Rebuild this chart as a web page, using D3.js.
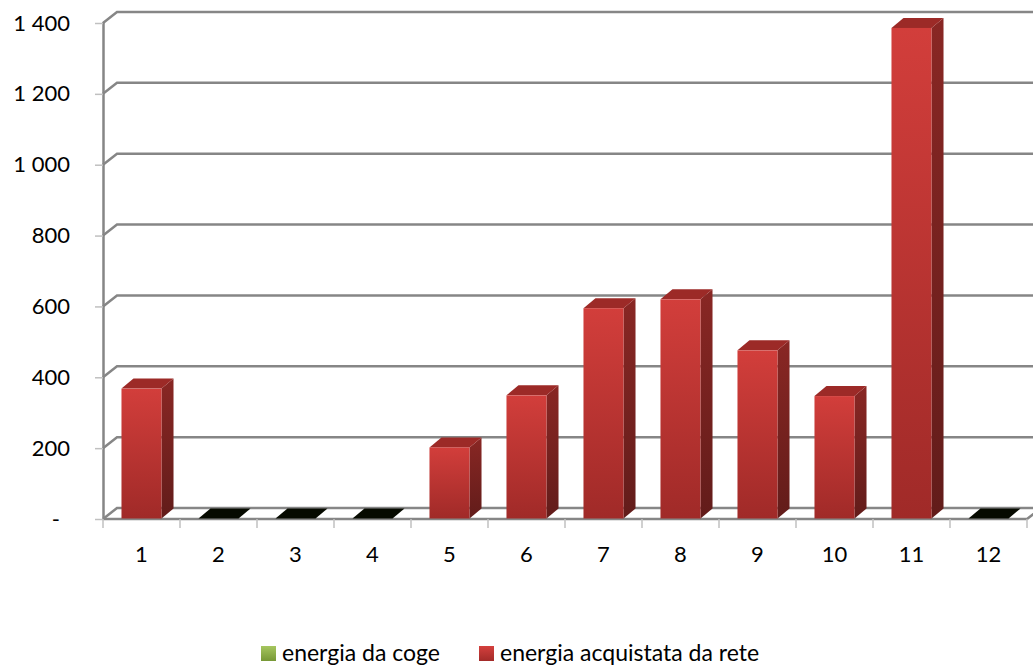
<!DOCTYPE html>
<html>
<head>
<meta charset="utf-8">
<script src="https://cdn.jsdelivr.net/npm/d3@7"></script>
<style>
  html, body { margin: 0; padding: 0; background: #fff; }
  svg { display: block; font-family: Lato, "Open Sans", sans-serif; }
</style>
</head>
<body>
<svg id="chart" width="1033" height="668"></svg>
<script>
// Monthly energy (kWh): cogeneration vs. energy bought from the grid
const months = [1, 2, 3, 4, 5, 6, 7, 8, 9, 10, 11, 12];
const energiaCoge = [0, 0, 0, 0, 0, 0, 0, 0, 0, 0, 0, 0];
const energiaRete = [368, 0, 0, 0, 202, 349, 595, 620, 476, 347, 1386, 0];
const yTicks = [0, 200, 400, 600, 800, 1000, 1200, 1400];
const seriesNames = ["energia da coge", "energia acquistata da rete"];

(function () {
const svg = d3.select("#chart");
const W = 1033;

// plot frame (front plane) and 3D depth offsets
const plotL = 103, plotR = 1027, plotT = 23, plotB = 519;
const wallDX = 14, wallDY = -11;   // back wall offset
const barDX = 12, barDY = -10;     // bar depth offset

const x = d3.scaleBand().domain(months).range([plotL, plotR])
  .paddingInner(0.48).paddingOuter(0.24);
const y = d3.scaleLinear().domain([0, 1400]).range([plotB, plotT]);

const fmt = v => v === 0 ? "-" : d3.format(",")(v).replace(/,/g, " ");

// gradients
const defs = svg.append("defs");
function vGrad(id, c1, c2) {
  const g = defs.append("linearGradient").attr("id", id)
    .attr("x1", 0).attr("y1", 0).attr("x2", 0).attr("y2", 1);
  g.append("stop").attr("offset", "0%").attr("stop-color", c1);
  g.append("stop").attr("offset", "100%").attr("stop-color", c2);
}
vGrad("redFront", "#d23e3b", "#a02a28");
vGrad("redSide", "#892724", "#621c1a");
vGrad("greenLeg", "#a6c65f", "#779836");
vGrad("redLeg", "#d4403d", "#a32b29");

const gridColor = "#868686";

// horizontal gridlines: diagonal from the axis to the back wall, then across
const grid = svg.append("g");
yTicks.forEach(v => {
  const yf = y(v);
  grid.append("path")
    .attr("d", `M${plotL},${yf} L${plotL + wallDX},${yf + wallDY} L${W},${yf + wallDY}`)
    .attr("fill", "none").attr("stroke", gridColor).attr("stroke-width", 2.5);
});

// floor front edge with its right-hand corner
svg.append("path")
  .attr("d", `M${plotL},${plotB} L${plotR},${plotB} L${plotR + wallDX},${plotB + wallDY}`)
  .attr("fill", "none").attr("stroke", gridColor).attr("stroke-width", 2.5);

// y axis
const yAxis = d3.axisLeft(y).tickValues(yTicks).tickFormat(fmt)
  .tickSizeInner(8).tickSizeOuter(0).tickPadding(25);
const gy = svg.append("g").attr("transform", `translate(${plotL},0)`).call(yAxis);
gy.select(".domain").attr("stroke", gridColor).attr("stroke-width", 2.5)
  .attr("d", `M0.5,${plotT - 1}V${plotB + 1}`);
gy.selectAll(".tick line").attr("stroke", "#c0c0c0").attr("stroke-width", 1.5);
gy.selectAll(".tick text").attr("font-size", 22).attr("fill", "#000")
  .attr("font-family", "Lato, sans-serif")
  .attr("dx", d => d === 0 ? -10 : 0);

// x axis: category ticks at the band boundaries, labels centred
const step = x.step();
const gx = svg.append("g");
d3.range(months.length + 1).forEach(i => {
  const xx = plotL + i * step;
  gx.append("line").attr("x1", xx).attr("x2", xx)
    .attr("y1", plotB).attr("y2", plotB + 9)
    .attr("stroke", "#c0c0c0").attr("stroke-width", 1.5);
});
gx.selectAll("text").data(months).join("text")
  .attr("x", d => x(d) + x.bandwidth() / 2)
  .attr("y", 562)
  .attr("text-anchor", "middle")
  .attr("font-size", 22).attr("fill", "#000")
  .text(d => d);

// bars (stacked: coge at the bottom, grid energy above)
const data = months.map((m, i) => ({ m, coge: energiaCoge[i], rete: energiaRete[i] }));
const bars = svg.append("g");
const y0 = plotB - 0.5;
data.forEach(d => {
  const bx = x(d.m), bw = x.bandwidth();
  const total = d.coge + d.rete;
  if (total === 0) {
    // empty month: only the flat top of a zero-height bar
    bars.append("path")
      .attr("d", `M${bx},${y0} L${bx + barDX},${y0 + barDY} L${bx + bw + barDX},${y0 + barDY} L${bx + bw},${y0} Z`)
      .attr("fill", "#060a00");
    return;
  }
  const yt = y(total);
  const yb = y(d.coge) - 0.5;
  // side face
  bars.append("path")
    .attr("d", `M${bx + bw},${yt} L${bx + bw + barDX},${yt + barDY} L${bx + bw + barDX},${yb + barDY} L${bx + bw},${yb} Z`)
    .attr("fill", "url(#redSide)");
  // top face
  bars.append("path")
    .attr("d", `M${bx},${yt} L${bx + barDX},${yt + barDY} L${bx + bw + barDX},${yt + barDY} L${bx + bw},${yt} Z`)
    .attr("fill", "#9c2a27");
  // front face
  bars.append("rect")
    .attr("x", bx).attr("y", yt).attr("width", bw).attr("height", yb - yt)
    .attr("fill", "url(#redFront)");
});

// legend
const legend = svg.append("g");
const legItems = [
  { name: seriesNames[0], fill: "url(#greenLeg)", x: 261 },
  { name: seriesNames[1], fill: "url(#redLeg)", x: 479 }
];
legItems.forEach(it => {
  legend.append("rect").attr("x", it.x).attr("y", 646).attr("width", 15).attr("height", 15)
    .attr("fill", it.fill);
  legend.append("text").attr("x", it.x + 21).attr("y", 661)
    .attr("font-size", 23).attr("fill", "#000").text(it.name);
});
})();
</script>
</body>
</html>
